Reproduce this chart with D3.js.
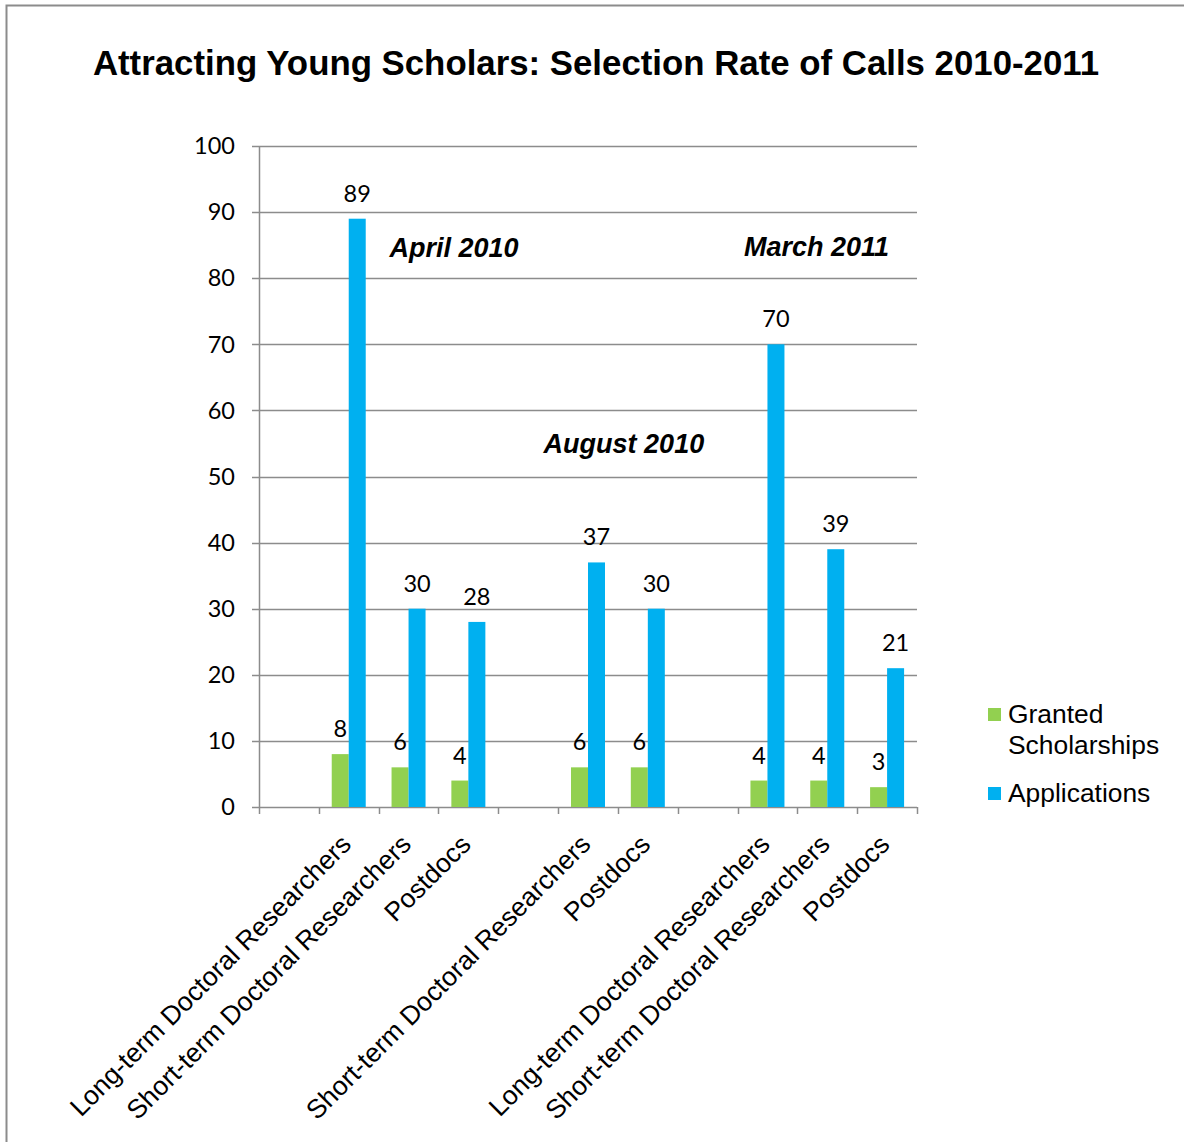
<!DOCTYPE html>
<html>
<head>
<meta charset="utf-8">
<script src="https://cdn.jsdelivr.net/npm/d3@7"></script>
<style>
  body { margin: 0; background: #fff; }
  svg { display: block; }
  .tick-label { font-family: Lato, "Noto Sans", sans-serif; font-size: 23.5px; fill: #000; }
  .cat-label { font-family: "Liberation Sans", Arial, sans-serif; font-size: 26.5px; fill: #000; }
  .legend-label { font-family: "Liberation Sans", Arial, sans-serif; font-size: 26.4px; fill: #000; }
  .note { font-family: "Liberation Sans", Arial, sans-serif; font-size: 27px; font-weight: bold; font-style: italic; }
</style>
</head>
<body>
<svg id="chart" width="1184" height="1142"></svg>
<script>
// categories along the x axis (empty slots separate the calls)
const categories = ['', 'Long-term Doctoral Researchers', 'Short-term Doctoral Researchers', 'Postdocs',
                    '', 'Short-term Doctoral Researchers', 'Postdocs',
                    '', 'Long-term Doctoral Researchers', 'Short-term Doctoral Researchers', 'Postdocs'];
const granted = [null, 8, 6, 4, null, 6, 6, null, 4, 4, 3];
const applications = [null, 89, 30, 28, null, 37, 30, null, 70, 39, 21];
const seriesNames = ['Granted Scholarships', 'Applications'];
const seriesColors = ['#92D050', '#00B0F0'];
const yTicks = [0, 10, 20, 30, 40, 50, 60, 70, 80, 90, 100];
// call labels: position in slot units and value units
const notes = [
  { text: 'April 2010', slot: 3.26, value: 84.7 },
  { text: 'August 2010', slot: 6.1, value: 55.0 },
  { text: 'March 2011', slot: 9.32, value: 84.8 }
];

const svg = d3.select('#chart');
const margin = { left: 259, right: 267, top: 146, bottom: 335 };
const width = 1184 - margin.left - margin.right;
const height = 1142 - margin.top - margin.bottom;

// frame (only top and left edges visible in the picture)
svg.append('path')
    .attr('d', 'M6.5,1142 V5.5 H1184')
    .attr('fill', 'none')
    .attr('stroke', '#8c8c8c')
    .attr('stroke-width', 2);

svg.append('text')
    .attr('x', 596)
    .attr('y', 75)
    .attr('text-anchor', 'middle')
    .style('font-family', '"Liberation Sans", Arial, sans-serif')
    .style('font-size', '34.8px')
    .style('font-weight', 'bold')
    .text('Attracting Young Scholars: Selection Rate of Calls 2010-2011');

const g = svg.append('g').attr('transform', `translate(${margin.left},${margin.top})`);

const x = d3.scaleBand().domain(d3.range(categories.length)).range([0, width]).paddingInner(0).paddingOuter(0);
const xSlot = d3.scaleLinear().domain([0, categories.length]).range([0, width]);
const y = d3.scaleLinear().domain([0, 100]).range([height, 0]);

const gridColor = '#8c8c8c';

// gridlines
g.selectAll('line.grid')
    .data(yTicks)
    .join('line')
    .attr('class', 'grid')
    .attr('x1', -7)
    .attr('x2', width)
    .attr('y1', d => Math.round(y(d)) + 0.5)
    .attr('y2', d => Math.round(y(d)) + 0.5)
    .attr('stroke', gridColor)
    .attr('stroke-width', 1.5);

g.selectAll('text.ytick')
    .data(yTicks)
    .join('text')
    .attr('class', 'tick-label ytick')
    .attr('x', -24)
    .attr('y', d => y(d))
    .attr('dy', '0.35em')
    .attr('text-anchor', 'end')
    .text(d => d);

// y axis line
g.append('line')
    .attr('x1', 0.5).attr('x2', 0.5)
    .attr('y1', 0).attr('y2', height)
    .attr('stroke', gridColor)
    .attr('stroke-width', 1.5);

// x axis ticks at slot boundaries
g.selectAll('line.xtick')
    .data(d3.range(categories.length + 1))
    .join('line')
    .attr('class', 'xtick')
    .attr('x1', d => Math.round(xSlot(d)) + 0.5)
    .attr('x2', d => Math.round(xSlot(d)) + 0.5)
    .attr('y1', height)
    .attr('y2', height + 7)
    .attr('stroke', gridColor)
    .attr('stroke-width', 1.5);

// bars
const barW = 17;
const series = [granted, applications];
series.forEach((values, s) => {
  const data = values.map((v, i) => ({ i, v })).filter(d => d.v != null);
  g.selectAll(`rect.s${s}`)
      .data(data)
      .join('rect')
      .attr('class', `s${s}`)
      .attr('x', d => x(d.i) + x.bandwidth() / 2 - barW + s * barW)
      .attr('y', d => y(d.v))
      .attr('width', barW)
      .attr('height', d => height - y(d.v))
      .attr('fill', seriesColors[s]);

  g.selectAll(`text.lbl${s}`)
      .data(data)
      .join('text')
      .attr('class', `tick-label lbl${s}`)
      .attr('x', d => x(d.i) + x.bandwidth() / 2 - barW / 2 + s * barW)
      .attr('y', d => y(d.v) - 17)
      .attr('text-anchor', 'middle')
      .text(d => d.v);
});

// category labels rotated
g.selectAll('text.cat')
    .data(categories.map((c, i) => ({ c, i })).filter(d => d.c))
    .join('text')
    .attr('class', 'cat-label cat')
    .attr('text-anchor', 'end')
    .attr('transform', d => `translate(${x(d.i) + x.bandwidth() / 2 + 4},${height + 39}) rotate(-45)`)
    .text(d => d.c);

// call annotations
g.selectAll('text.note')
    .data(notes)
    .join('text')
    .attr('class', 'note')
    .attr('x', d => xSlot(d.slot))
    .attr('y', d => y(d.value))
    .attr('dy', '0.35em')
    .attr('text-anchor', 'middle')
    .text(d => d.text);

// legend
const legend = svg.append('g').attr('transform', 'translate(988,0)');
const legendRows = [
  { lines: ['Granted', 'Scholarships'], y: 714 },
  { lines: ['Applications'], y: 793 }
];
legendRows.forEach((row, s) => {
  legend.append('rect')
      .attr('x', 0)
      .attr('y', row.y - 6)
      .attr('width', 13)
      .attr('height', 13)
      .attr('fill', seriesColors[s]);
  const t = legend.append('text')
      .attr('class', 'legend-label')
      .attr('x', 20)
      .attr('y', row.y);
  row.lines.forEach((ln, k) => {
    t.append('tspan').attr('x', 20).attr('dy', k === 0 ? '0.35em' : '1.17em').text(ln);
  });
});
</script>
</body>
</html>
